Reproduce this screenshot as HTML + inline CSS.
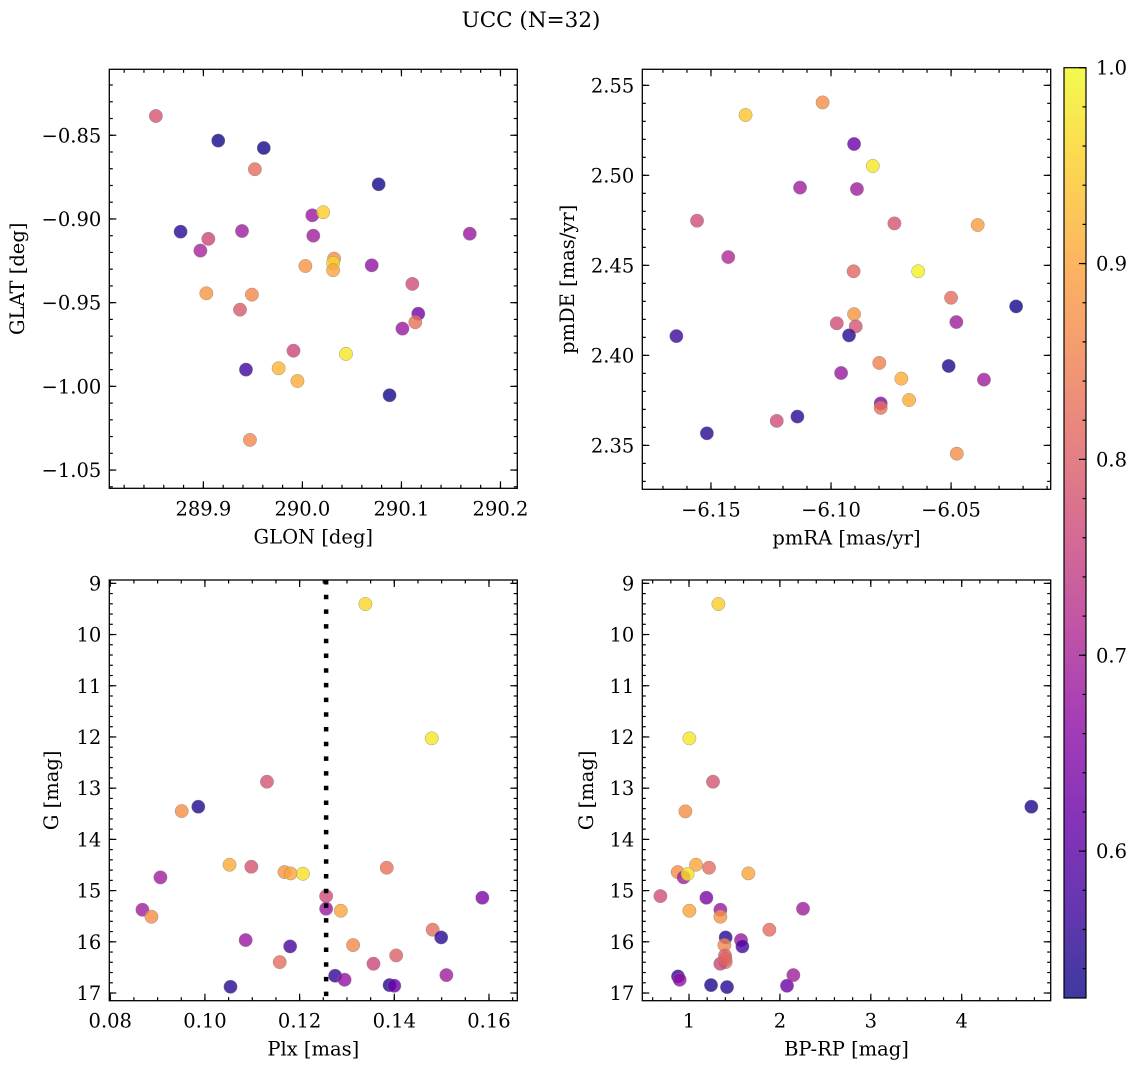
<!DOCTYPE html>
<html><head><meta charset="utf-8"><style>
html,body{margin:0;padding:0;background:#fff;}
svg{display:block;font-family:"DejaVu Serif","Liberation Serif",serif;}
</style></head><body>
<svg id="fig" width="1136" height="1067" viewBox="0 0 1136 1067" xmlns="http://www.w3.org/2000/svg">
<text x="531" y="27" font-size="21.5" text-anchor="middle">UCC (N=32)</text>
</svg>
<script>
// ---- Panel 1: GLON vs GLAT ----
const glon = [289.852,289.915,289.961,289.952,290.077,290.010,290.021,289.877,289.939,289.905,289.897,290.011,290.169,290.032,290.031,290.031,290.003,290.070,290.111,289.903,289.949,289.937,290.117,290.114,290.101,289.991,290.044,289.943,289.976,289.995,290.088,289.947];
const glat = [-0.8385,-0.8532,-0.8576,-0.8703,-0.8793,-0.8978,-0.8960,-0.9076,-0.9072,-0.9119,-0.9189,-0.9100,-0.9088,-0.9237,-0.9263,-0.9306,-0.9281,-0.9277,-0.9388,-0.9444,-0.9452,-0.9542,-0.9566,-0.9617,-0.9655,-0.9787,-0.9806,-0.9900,-0.9892,-0.9968,-1.0053,-1.0320];
const prob1 = [0.78,0.53,0.53,0.82,0.53,0.68,0.95,0.55,0.69,0.76,0.70,0.69,0.68,0.87,0.96,0.90,0.88,0.67,0.77,0.88,0.86,0.79,0.63,0.83,0.68,0.76,0.98,0.57,0.92,0.91,0.53,0.86];
// ---- Panel 2: pmRA vs pmDE ----
const pmra = [-6.1035,-6.1356,-6.0904,-6.0826,-6.1129,-6.0892,-6.1558,-6.0736,-6.0389,-6.1428,-6.0906,-6.0637,-6.0500,-6.0229,-6.0904,-6.0478,-6.0976,-6.0897,-6.0925,-6.1644,-6.0799,-6.0510,-6.0958,-6.0707,-6.0363,-6.0675,-6.0793,-6.0793,-6.1140,-6.1226,-6.1517,-6.0476];
const pmde = [2.5405,2.5335,2.5174,2.5052,2.4932,2.4924,2.4748,2.4733,2.4724,2.4546,2.4467,2.4467,2.4320,2.4272,2.4229,2.4185,2.4178,2.4161,2.4111,2.4107,2.3958,2.3941,2.3902,2.3871,2.3865,2.3752,2.3733,2.3708,2.3660,2.3636,2.3567,2.3454];
const prob2 = [0.87,0.94,0.62,0.98,0.69,0.69,0.77,0.78,0.89,0.71,0.81,0.99,0.82,0.53,0.88,0.69,0.77,0.78,0.55,0.57,0.85,0.54,0.68,0.91,0.69,0.91,0.65,0.83,0.55,0.77,0.55,0.87];
// ---- Panel 3: Plx vs G ----
const plx = [0.1339,0.1479,0.1131,0.0986,0.0951,0.1052,0.1098,0.1168,0.1181,0.1207,0.1384,0.0906,0.1256,0.1256,0.1287,0.1586,0.0868,0.0887,0.1481,0.1499,0.1086,0.1180,0.1313,0.1404,0.1158,0.1356,0.1510,0.1275,0.1295,0.1390,0.1400,0.1054];
const gmag3 = [9.404,12.027,12.874,13.362,13.447,14.495,14.534,14.638,14.664,14.671,14.553,14.742,15.107,15.354,15.393,15.139,15.374,15.510,15.764,15.914,15.966,16.090,16.064,16.266,16.396,16.428,16.650,16.663,16.741,16.845,16.858,16.878];
const prob3 = [0.96,0.98,0.78,0.54,0.87,0.91,0.78,0.88,0.90,0.97,0.83,0.69,0.77,0.68,0.90,0.64,0.69,0.87,0.82,0.55,0.68,0.58,0.86,0.80,0.82,0.76,0.69,0.56,0.67,0.54,0.62,0.55];
const plxLine = [0.1256];
// ---- Panel 4: BP-RP vs G ----
const bprp = [1.323,1.004,1.264,4.766,0.960,1.077,1.220,0.875,0.941,0.985,1.653,0.685,1.191,1.345,1.345,1.004,2.254,1.884,1.403,1.572,1.587,1.389,1.396,1.403,1.345,2.148,0.879,0.897,1.242,2.078,1.418,1.400];
const gmag4 = [9.404,12.027,12.874,13.362,13.453,14.495,14.553,14.638,14.742,14.677,14.664,15.107,15.139,15.374,15.510,15.393,15.354,15.764,15.914,15.966,16.090,16.064,16.266,16.396,16.428,16.650,16.676,16.741,16.845,16.858,16.884,16.330];
const prob4 = [0.95,0.98,0.78,0.54,0.87,0.90,0.82,0.87,0.69,0.97,0.90,0.77,0.64,0.68,0.88,0.90,0.69,0.82,0.55,0.68,0.58,0.86,0.80,0.82,0.76,0.69,0.56,0.67,0.54,0.62,0.55,0.81];
// ---- Tick labels ----
const p1xTicks = [289.9,290.0,290.1,290.2];
const p1xLabels = ["289.9","290.0","290.1","290.2"];
const p1yTicks = [-0.85,-0.90,-0.95,-1.00,-1.05];
const p1yLabels = ["\u22120.85","\u22120.90","\u22120.95","\u22121.00","\u22121.05"];
const p2xTicks = [-6.15,-6.10,-6.05];
const p2xLabels = ["\u22126.15","\u22126.10","\u22126.05"];
const p2yTicks = [2.35,2.40,2.45,2.50,2.55];
const p2yLabels = ["2.35","2.40","2.45","2.50","2.55"];
const p3xTicks = [0.08,0.10,0.12,0.14,0.16];
const p3xLabels = ["0.08","0.10","0.12","0.14","0.16"];
const gTicks = [9,10,11,12,13,14,15,16,17];
const gLabels = ["9","10","11","12","13","14","15","16","17"];
const p4xTicks = [1,2,3,4];
const p4xLabels = ["1","2","3","4"];
const cbTicks = [0.6,0.7,0.8,0.9,1.0];
const cbLabels = ["0.6","0.7","0.8","0.9","1.0"];
const cMin = 0.525, cMax = 1.0;

const NS = "http://www.w3.org/2000/svg";
const svg = document.getElementById('fig');
const FS = 19.5;
const plasma = ["#0d0887","#41049d","#6a00a8","#8f0da4","#b12a90","#cc4778","#e16462","#f2844b","#fca636","#fcce25","#f0f921"];
function hex(h){return [parseInt(h.substr(1,2),16),parseInt(h.substr(3,2),16),parseInt(h.substr(5,2),16)];}
function cmap(v){
  let t=(v-cMin)/(cMax-cMin); t=Math.max(0,Math.min(1,t));
  const s=t*10, i=Math.min(9,Math.floor(s)), f=s-i;
  const a=hex(plasma[i]), b=hex(plasma[i+1]);
  return "rgb("+a.map((x,k)=>Math.round(x+(b[k]-x)*f)).join(",")+")";
}
function mk(tag, attrs, parent){
  const e=document.createElementNS(NS,tag);
  for(const k in attrs) e.setAttribute(k,attrs[k]);
  (parent||svg).appendChild(e); return e;
}
function panel(o){
  const g=mk('g',{});
  
  
  const sx=v=>o.px[0]+(v-o.xd[0])/(o.xd[1]-o.xd[0])*(o.px[1]-o.px[0]);
  const sy=v=>o.py[0]+(v-o.yd[0])/(o.yd[1]-o.yd[0])*(o.py[1]-o.py[0]);
  for(let i=0;i<o.xs.length;i++){
    const c=mk('circle',{cx:sx(o.xs[i]),cy:sy(o.ys[i]),r:6.7,fill:cmap(o.cs[i]),'fill-opacity':0.8,stroke:'#888','stroke-width':0.5,'stroke-opacity':0.8},g);
    
    
  }
  if(o.vline){
    for(const v of o.vline){
      const l=mk('line',{x1:sx(v),x2:sx(v),y1:o.py[0],y2:o.py[1],stroke:'#000','stroke-width':4.5,'stroke-dasharray':'4.5 10.2'},g);
      
      
    }
  }
  const L=Math.min(o.px[0],o.px[1]), R=Math.max(o.px[0],o.px[1]);
  const T=Math.min(o.py[0],o.py[1]), B=Math.max(o.py[0],o.py[1]);
  const fr=mk('rect',{x:L,y:T,width:R-L,height:B-T,fill:'none',stroke:'#000','stroke-width':1.3},g);
  
  
  const tk=(x1,y1,x2,y2)=>mk('line',{x1,y1,x2,y2,stroke:'#000','stroke-width':1.2},g);
  const xlo=Math.min(...o.xd), xhi=Math.max(...o.xd);
  for(let k=Math.ceil(xlo/o.xm-1e-6);k*o.xm<=xhi+1e-9;k++){const x=sx(k*o.xm);tk(x,B,x,B-3.5);tk(x,T,x,T+3.5);}
  const ylo=Math.min(...o.yd), yhi=Math.max(...o.yd);
  for(let k=Math.ceil(ylo/o.ym-1e-6);k*o.ym<=yhi+1e-9;k++){const y=sy(k*o.ym);tk(L,y,L+3.5,y);tk(R,y,R-3.5,y);}
  o.xt.forEach((v,i)=>{const x=sx(v);tk(x,B,x,B-7);tk(x,T,x,T+7);
    const t=mk('text',{x:x,y:B+27,'font-size':FS,'text-anchor':'middle'},g);t.textContent=o.xl[i];
    
    });
  o.yt.forEach((v,i)=>{const y=sy(v);tk(L,y,L+7,y);tk(R,y,R-7,y);
    const t=mk('text',{x:L-8,y:y+7,'font-size':FS,'text-anchor':'end'},g);t.textContent=o.yl[i];
    
    });
  const xt=mk('text',{x:(L+R)/2,y:B+55,'font-size':FS,'text-anchor':'middle'},g);xt.textContent=o.xlab;
  
  
  const yx=o.ylx, yy=(T+B)/2;
  const yt=mk('text',{x:yx,y:yy,'font-size':FS,'text-anchor':'middle',transform:'rotate(-90 '+yx+' '+yy+')'},g);yt.textContent=o.ylab;
  
  
}
panel({name:'glon-glat-panel',xs:glon,ys:glat,cs:prob1,px:[109.3,517.3],py:[69.3,488.3],xd:[289.805,290.217],yd:[-0.8106,-1.0609],
  xt:p1xTicks,xl:p1xLabels,yt:p1yTicks,yl:p1yLabels,xm:0.02,ym:0.01,xlab:'GLON [deg]',ylab:'GLAT [deg]',ylx:24});
panel({name:'pm-panel',xs:pmra,ys:pmde,cs:prob2,px:[642.3,1050.7],py:[69.3,489.3],xd:[-6.1786,-6.0085],yd:[2.5589,2.3256],
  xt:p2xTicks,xl:p2xLabels,yt:p2yTicks,yl:p2yLabels,xm:0.01,ym:0.01,xlab:'pmRA [mas/yr]',ylab:'pmDE [mas/yr]',ylx:574});
panel({name:'plx-g-panel',xs:plx,ys:gmag3,cs:prob3,px:[109.3,517.3],py:[580,1000.7],xd:[0.0798,0.16598],yd:[8.935,17.15],vline:plxLine,
  xt:p3xTicks,xl:p3xLabels,yt:gTicks,yl:gLabels,xm:0.005,ym:0.2,xlab:'Plx [mas]',ylab:'G [mag]',ylx:58});
panel({name:'cmd-panel',xs:bprp,ys:gmag4,cs:prob4,px:[642.3,1050.7],py:[580,1000.7],xd:[0.486,4.979],yd:[8.935,17.15],
  xt:p4xTicks,xl:p4xLabels,yt:gTicks,yl:gLabels,xm:0.2,ym:0.2,xlab:'BP-RP [mag]',ylab:'G [mag]',ylx:593});
// colorbar
(function(){
  const g=mk('g',{});
  
  
  const L=1064,R=1086,T=67.7,B=998;
  const sy=v=>B-(v-cMin)/(cMax-cMin)*(B-T);
  const defs=mk('defs',{},g);
  const lg=mk('linearGradient',{id:'cbgrad',x1:0,y1:1,x2:0,y2:0},defs);
  for(let i=0;i<=40;i++){
    const v=cMin+(cMax-cMin)*i/40;
    mk('stop',{offset:(i/40),'stop-color':cmap(v)},lg);
  }
  mk('rect',{x:L,y:T,width:R-L,height:B-T,fill:'url(#cbgrad)','fill-opacity':0.8},g);
  mk('rect',{x:L,y:T,width:R-L,height:B-T,fill:'none',stroke:'#000','stroke-width':1.2},g);
  for(let k=Math.ceil(cMin/0.02-1e-6);k*0.02<=cMax+1e-9;k++){const y=sy(k*0.02);mk('line',{x1:R,x2:R-3.5,y1:y,y2:y,stroke:'#000','stroke-width':1.2},g);}
  cbTicks.forEach((v,i)=>{const y=sy(v);mk('line',{x1:R,x2:R-7,y1:y,y2:y,stroke:'#000','stroke-width':1.2},g);
    const t=mk('text',{x:R+10,y:y+7,'font-size':FS},g);t.textContent=cbLabels[i];
    
    });
})();
</script>
</body></html>
